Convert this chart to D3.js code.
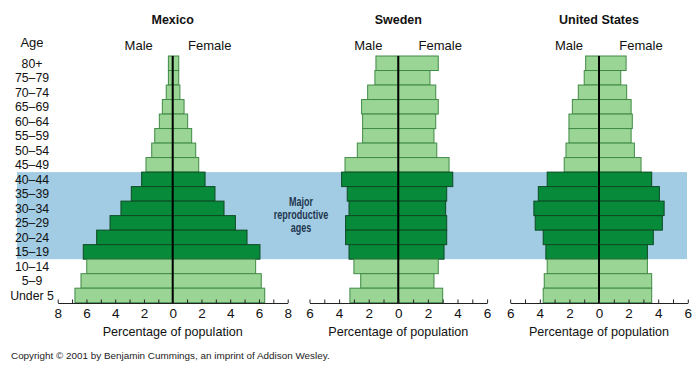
<html>
<head>
<script src="https://cdn.jsdelivr.net/npm/d3@7"></script>
<style>
body { margin: 0; background: #fff; }
text { font-family: "Liberation Sans", Arial, sans-serif; }
</style>
</head>
<body>
<div id="canvas"></div>
<script>

var width = 700;
var height = 369;

// age groups, top to bottom
var ages = ["80+", "75\u201379", "70\u201374", "65\u201369", "60\u201364", "55\u201359", "50\u201354", "45\u201349",
  "40\u201344", "35\u201339", "30\u201334", "25\u201329", "20\u201324", "15\u201319", "10\u201314", "5\u20139", "Under 5"];
var reproductive = ["40\u201344", "35\u201339", "30\u201334", "25\u201329", "20\u201324", "15\u201319"];

// percentage of population
var mexicoMale   = [0.3, 0.3, 0.45, 0.72, 0.93, 1.25, 1.46, 1.86, 2.16, 2.88, 3.6, 4.36, 5.29, 6.22, 5.98, 6.38, 6.8];
var mexicoFemale = [0.42, 0.42, 0.5, 0.79, 1.04, 1.32, 1.6, 1.81, 2.25, 2.94, 3.57, 4.36, 5.17, 6.07, 5.77, 6.16, 6.4];
var swedenMale   = [1.51, 1.58, 2.07, 2.48, 2.41, 2.41, 2.77, 3.6, 3.83, 3.45, 3.33, 3.56, 3.56, 3.33, 3.0, 2.54, 3.27];
var swedenFemale = [2.7, 2.14, 2.53, 2.7, 2.53, 2.41, 2.6, 3.43, 3.68, 3.27, 3.2, 3.27, 3.27, 3.09, 2.7, 2.41, 3.0];
var usMale       = [0.9, 1.0, 1.4, 1.8, 2.03, 2.03, 2.23, 2.35, 3.5, 4.1, 4.4, 4.31, 3.77, 3.59, 3.5, 3.7, 3.77];
var usFemale     = [1.83, 1.47, 1.87, 2.17, 2.25, 2.17, 2.39, 2.84, 3.56, 4.08, 4.4, 4.28, 3.67, 3.27, 3.27, 3.56, 3.56];

var countries = ["Mexico", "Sweden", "United States"];
var axisMax = [8, 6, 6];

var panels = [
  {name: countries[0], male: mexicoMale, female: mexicoFemale, max: axisMax[0], x0: 57.7, x1: 287.7, maleX: -34, femaleX: 37},
  {name: countries[1], male: swedenMale, female: swedenFemale, max: axisMax[1], x0: 309.5, x1: 487.1, maleX: -30, femaleX: 42},
  {name: countries[2], male: usMale, female: usFemale, max: axisMax[2], x0: 510.2, x1: 687.8, maleX: -30, femaleX: 42}
];

var lightFill = "#9bd595", lightStroke = "#3f8a45";
var darkFill = "#078a3a", darkStroke = "#0d4a23";

var svg = d3.select("#canvas").append("svg").attr("width", width).attr("height", height);

var y = d3.scaleBand().domain(ages).range([56, 302.7]).padding(0);
var axisY = 303;

// reproductive band
svg.append("rect")
  .attr("x", 17)
  .attr("y", y(reproductive[0]))
  .attr("width", 687 - 17)
  .attr("height", y(reproductive[reproductive.length - 1]) + y.bandwidth() - y(reproductive[0]))
  .attr("fill", "#a2cce3");

// age labels
svg.append("text").attr("x", 32).attr("y", 46.5).attr("text-anchor", "middle")
  .attr("font-size", 13).attr("fill", "#111").text("Age");
svg.selectAll(".age").data(ages).enter().append("text")
  .attr("class", "age")
  .attr("x", 32)
  .attr("y", function(d) { return y(d) + y.bandwidth() / 2 + 4.5; })
  .attr("text-anchor", "middle")
  .attr("font-size", 12.3)
  .attr("fill", "#111")
  .text(function(d) { return d; });

panels.forEach(function(p) {
  var x = d3.scaleLinear().domain([-p.max, p.max]).range([p.x0, p.x1]);
  var g = svg.append("g");
  var cx = x(0);

  g.append("text").attr("x", cx).attr("y", 23.5).attr("text-anchor", "middle")
    .attr("font-size", 12.5).attr("font-weight", "bold").attr("fill", "#111").text(p.name);
  g.append("text").attr("x", cx + p.maleX).attr("y", 50).attr("text-anchor", "middle")
    .attr("font-size", 13).attr("fill", "#111").text("Male");
  g.append("text").attr("x", cx + p.femaleX).attr("y", 50).attr("text-anchor", "middle")
    .attr("font-size", 13).attr("fill", "#111").text("Female");

  function isRep(d) { return reproductive.indexOf(d) >= 0; }

  g.selectAll(".m").data(ages).enter().append("rect")
    .attr("x", function(d, i) { return x(-p.male[i]); })
    .attr("y", function(d) { return y(d); })
    .attr("width", function(d, i) { return cx - x(-p.male[i]); })
    .attr("height", y.bandwidth())
    .attr("fill", function(d) { return isRep(d) ? darkFill : lightFill; })
    .attr("stroke", function(d) { return isRep(d) ? darkStroke : lightStroke; })
    .attr("stroke-width", 1);

  g.selectAll(".f").data(ages).enter().append("rect")
    .attr("x", cx)
    .attr("y", function(d) { return y(d); })
    .attr("width", function(d, i) { return x(p.female[i]) - cx; })
    .attr("height", y.bandwidth())
    .attr("fill", function(d) { return isRep(d) ? darkFill : lightFill; })
    .attr("stroke", function(d) { return isRep(d) ? darkStroke : lightStroke; })
    .attr("stroke-width", 1);

  g.append("line")
    .attr("x1", cx).attr("x2", cx)
    .attr("y1", y.range()[0]).attr("y2", axisY)
    .attr("stroke", "#000").attr("stroke-width", 2);

  // ticks point up into the plot, one per percent
  var minor = d3.range(-p.max, p.max + 1);
  g.append("g").attr("transform", "translate(0," + axisY + ")")
    .call(d3.axisBottom(x).tickValues(minor).tickSize(-3.5).tickSizeOuter(0).tickFormat(""))
    .call(function(a) { a.selectAll("path,line").attr("stroke", "#222"); });

  var major = d3.range(-p.max, p.max + 1, 2);
  var ax = g.append("g").attr("transform", "translate(0," + axisY + ")")
    .call(d3.axisBottom(x).tickValues(major).tickSize(0).tickSizeOuter(0)
      .tickFormat(function(d) { return Math.abs(d); }));
  ax.select(".domain").remove();
  ax.selectAll("text").attr("font-size", 13.5).attr("fill", "#111")
    .attr("font-family", "'Liberation Sans', Arial, sans-serif").attr("y", 5).attr("dy", "0.71em");

  g.append("text").attr("x", cx).attr("y", 336).attr("text-anchor", "middle")
    .attr("font-size", 12.6).attr("fill", "#111").text("Percentage of population");
});

// annotation, condensed like the original lettering
var note = svg.append("text").attr("text-anchor", "middle").attr("font-size", 12.5)
  .attr("font-weight", "bold").attr("fill", "#22364f")
  .attr("transform", "translate(301,0) scale(0.72,1)");
["Major", "reproductive", "ages"].forEach(function(t, i) {
  note.append("tspan").attr("x", 0).attr("y", 206 + i * 13).text(t);
});

svg.append("text").attr("x", 11).attr("y", 358.5).attr("font-size", 9.9).attr("fill", "#222")
  .text("Copyright \u00a9 2001 by Benjamin Cummings, an imprint of Addison Wesley.");

</script>
</body>
</html>
